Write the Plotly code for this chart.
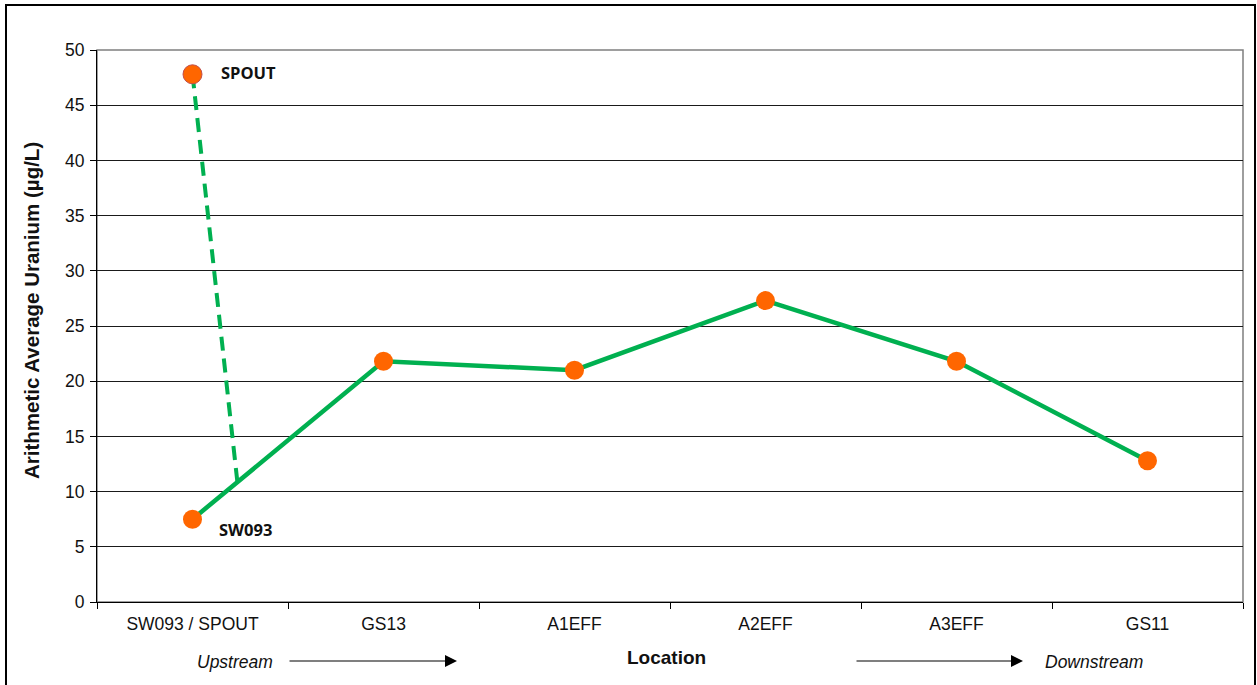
import plotly.graph_objects as go

locations = ["SW093 / SPOUT", "GS13", "A1EFF", "A2EFF", "A3EFF", "GS11"]
uranium = [7.5, 21.8, 21.0, 27.3, 21.8, 12.8]   # SW093 then downstream stations
spout_value = 47.8
junction_frac = 0.235  # where the dashed SPOUT connector meets the SW093-GS13 segment
y_ticks = [0, 5, 10, 15, 20, 25, 30, 35, 40, 45, 50]

GREEN = "#00B050"
ORANGE = "#FF6600"

xs = list(range(len(locations)))
junction_y = uranium[0] + junction_frac * (uranium[1] - uranium[0])

fig = go.Figure()
fig.add_trace(go.Scatter(
    x=[0, junction_frac], y=[spout_value, junction_y], mode="lines",
    line=dict(color=GREEN, width=4, dash="14px,8px"), hoverinfo="skip", showlegend=False))
fig.add_trace(go.Scatter(
    x=xs, y=uranium, mode="lines+markers",
    line=dict(color=GREEN, width=4.5),
    marker=dict(color=ORANGE, size=19, line=dict(width=0)), showlegend=False))
fig.add_trace(go.Scatter(
    x=[0], y=[spout_value], mode="markers",
    marker=dict(color=ORANGE, size=19, line=dict(width=1, color="#C0504D")), showlegend=False))

W, L, R, T, B = 1257, 97, 14, 50, 83
pw = W - L - R
ph = 685 - T - B

def px_x(p):
    return (p - L) / pw

def px_y(p):
    return (T + ph - p) / ph

def paper_text(text, xp, yp, size, angle=0):
    return dict(text=text, xref="paper", yref="paper", x=px_x(xp), y=px_y(yp),
                xanchor="center", yanchor="middle", textangle=angle, showarrow=False,
                font=dict(size=size, color="#111"))

fig.update_layout(
    width=W, height=685, margin=dict(l=L, r=R, t=T, b=B),
    paper_bgcolor="white", plot_bgcolor="white",
    font=dict(family="Liberation Sans, Arial, sans-serif", size=17.5, color="#111"),
    xaxis=dict(range=[-0.5, len(locations) - 0.5], tickmode="array", tickvals=xs, ticktext=locations,
               ticks="", showgrid=False, zeroline=False, showline=True, linecolor="black", linewidth=1,
               fixedrange=True, ticklabelstandoff=6,
               minor=dict(tickmode="array", tickvals=[i - 0.5 for i in range(len(locations) + 1)],
                          ticks="outside", ticklen=6, tickcolor="black", showgrid=False)),
    yaxis=dict(range=[0, 50], tickmode="array", tickvals=y_ticks, ticks="outside", ticklen=6,
               tickcolor="black", showgrid=True, gridcolor="#1a1a1a", gridwidth=1, zeroline=False,
               showline=True, linecolor="black", linewidth=1, fixedrange=True, ticklabelstandoff=2),
    shapes=[
        dict(type="rect", xref="paper", yref="paper", x0=0, x1=1, y0=0, y1=1,
             line=dict(color="#7f7f7f", width=1.5), layer="below"),
        dict(type="rect", xref="paper", yref="paper", x0=px_x(6), x1=px_x(1255), y0=px_y(5), y1=px_y(692),
             line=dict(color="black", width=2)),
    ],
    annotations=[
        paper_text("<b>Arithmetic Average Uranium (µg/L)</b>", 31, 311, 20.5, -90),
        paper_text("<b>Location</b>", 666, 657, 19),
        paper_text("<i>Upstream</i>", 235, 662, 17.5),
        paper_text("<i>Downstream</i>", 1094, 662, 17.5),
        dict(text="", xref="paper", yref="paper", x=px_x(457), y=px_y(661), ax=-169, ay=0,
             showarrow=True, arrowhead=2, arrowsize=2, arrowwidth=1.2, arrowcolor="black"),
        dict(text="", xref="paper", yref="paper", x=px_x(1023), y=px_y(661), ax=-168, ay=0,
             showarrow=True, arrowhead=2, arrowsize=2, arrowwidth=1.2, arrowcolor="black"),
        dict(text="<b>SPOUT</b>", x=0, y=spout_value, xanchor="left", xshift=26, yshift=2, showarrow=False,
             font=dict(family="Open Sans, sans-serif", size=16.5, color="#111")),
        dict(text="<b>SW093</b>", x=0, y=uranium[0], xanchor="left", xshift=24, yshift=-10, showarrow=False,
             font=dict(family="Open Sans, sans-serif", size=16.5, color="#111")),
    ],
)

fig.write_html("out.html", config={"displayModeBar": False},
               post_script="document.body.style.margin='0';")
